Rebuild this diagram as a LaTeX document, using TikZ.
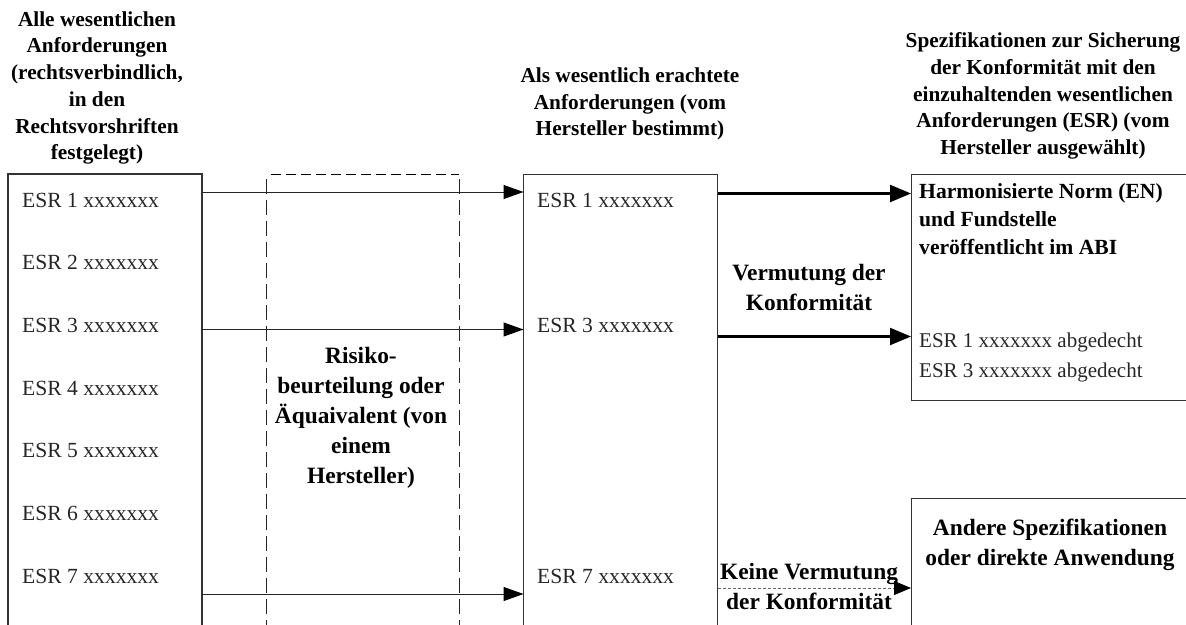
\documentclass[tikz,border=0pt]{standalone}
\usepackage{fontspec}
\setmainfont{Liberation Serif}
\usetikzlibrary{arrows.meta}
\tikzset{
  x=1pt,y=-1pt,
  frame/.style={draw=black!80,line width=0.9pt,anchor=north west,inner sep=0pt,outer sep=0pt},
  head/.style={font=\fontsize{21.3}{26.7}\selectfont\bfseries,align=center,inner sep=0pt,text=black},
  band/.style={font=\fontsize{23.4}{30}\selectfont\bfseries,align=center,inner sep=0pt,text=black},
  esr/.style={font=\fontsize{21.6}{21.6}\selectfont,anchor=base west,inner sep=0pt,text=black!85},
  thinarrow/.style={draw=black!85,line width=1pt,-{Triangle[length=20pt,width=14pt,fill=black,color=black]}},
  boldarrow/.style={draw=black,line width=2.2pt,-{Triangle[length=21pt,width=17pt]}},
  dotarrow/.style={draw=black!60,line width=0.9pt,dash pattern=on 3pt off 2pt,-{Triangle[length=17pt,width=14pt,fill=black,color=black]}},
  riskdash/.style={draw=black!85,line width=0.8pt,dash pattern=on 15pt off 6pt},
  riskdashtop/.style={draw=black,line width=1pt,dash pattern=on 10pt off 5pt}
}
\begin{document}
\begin{tikzpicture}
\useasboundingbox (0,0) rectangle (1186,624);
\clip (0,0) rectangle (1186,624);
% boxes
\node[frame,line width=1.3pt,minimum width=194pt,minimum height=470pt] (lbox) at (8,174) {};
\node[frame,minimum width=194pt,minimum height=470pt] (mbox) at (523.5,174) {};
\node[frame,minimum width=290pt,minimum height=226pt] (rtop) at (911,174) {};
\node[frame,minimum width=290pt,minimum height=150pt] (rbot) at (911,498) {};
% risk box
\coordinate (rtl) at (266,174);
\coordinate (rtr) at (459,174);
\coordinate (rbl) at (266,640);
\coordinate (rbr) at (459,640);
\draw[riskdash] (rtl) ++(0,5) -- (rbl);
\draw[riskdash] (rtr) ++(0,5) -- (rbr);
\draw[riskdashtop] (271,174) -- (rtr);
% headings
\node[head] (h1) at (97,88) {Alle wesentlichen\\Anforderungen\\(rechtsverbindlich,\\in den\\Rechtsvorshriften\\festgelegt)};
\node[head] (h2) at (630,104) {Als wesentlich erachtete\\Anforderungen (vom\\Hersteller bestimmt)};
\node[head] (h3) at (1043,96) {Spezifikationen zur Sicherung\\der Konformität mit den\\einzuhaltenden wesentlichen\\Anforderungen (ESR) (vom\\Hersteller ausgewählt)};
% ESR left
\node[esr] (l1) at (22,207) {ESR 1 xxxxxxx};
\node[esr] (l2) at (22,269) {ESR 2 xxxxxxx};
\node[esr] (l3) at (22,332) {ESR 3 xxxxxxx};
\node[esr] (l4) at (22,395) {ESR 4 xxxxxxx};
\node[esr] (l5) at (22,457) {ESR 5 xxxxxxx};
\node[esr] (l6) at (22,520) {ESR 6 xxxxxxx};
\node[esr] (l7) at (22,583) {ESR 7 xxxxxxx};
% ESR mid
\node[esr] (m1) at (537,207) {ESR 1 xxxxxxx};
\node[esr] (m3) at (537,332) {ESR 3 xxxxxxx};
\node[esr] (m7) at (537,583) {ESR 7 xxxxxxx};
% right text
\node[font=\fontsize{21.6}{28}\selectfont\bfseries,align=left,anchor=north west,inner sep=0pt] (en) at (919,183) {Harmonisierte Norm (EN)\\und Fundstelle\\veröffentlicht im ABI};
\node[font=\fontsize{21}{30}\selectfont,align=left,anchor=north west,inner sep=0pt,text=black!85] (cov) at (919,333) {ESR 1 xxxxxxx abgedecht\\ESR 3 xxxxxxx abgedecht};
\node[band] (other) at (1050,545) {Andere Spezifikationen\\oder direkte Anwendung};
\node[band] (risk) at (361,418) {Risiko-\\beurteilung oder\\Äquaivalent (von\\einem\\Hersteller)};
\node[band] (verm) at (809,287) {Vermutung der\\Konformität};
% connectors
\coordinate (a1s) at (lbox.east |- 0,192);
\coordinate (a1e) at (mbox.west |- 0,192);
\coordinate (a3s) at (lbox.east |- 0,329.5);
\coordinate (a3e) at (mbox.west |- 0,329.5);
\coordinate (a7s) at (lbox.east |- 0,594);
\coordinate (a7e) at (mbox.west |- 0,594);
\coordinate (b1s) at (mbox.east |- 0,193.5);
\coordinate (b1e) at (rtop.west |- 0,193.5);
\coordinate (b3s) at (mbox.east |- 0,336.5);
\coordinate (b3e) at (rtop.west |- 0,336.5);
\coordinate (b7s) at (mbox.east |- 0,588);
\coordinate (b7e) at (rbot.west |- 0,588);
\draw[thinarrow] (a1s) -- (a1e);
\draw[thinarrow] (a3s) -- (a3e);
\draw[thinarrow] (a7s) -- (a7e);
\draw[boldarrow] (b1s) -- (b1e);
\draw[boldarrow] (b3s) -- (b3e);
\draw[dotarrow] (b7s) -- (b7e);
\node[band] (keine) at (809,586) {Keine Vermutung\\der Konformität};
\end{tikzpicture}
\end{document}
